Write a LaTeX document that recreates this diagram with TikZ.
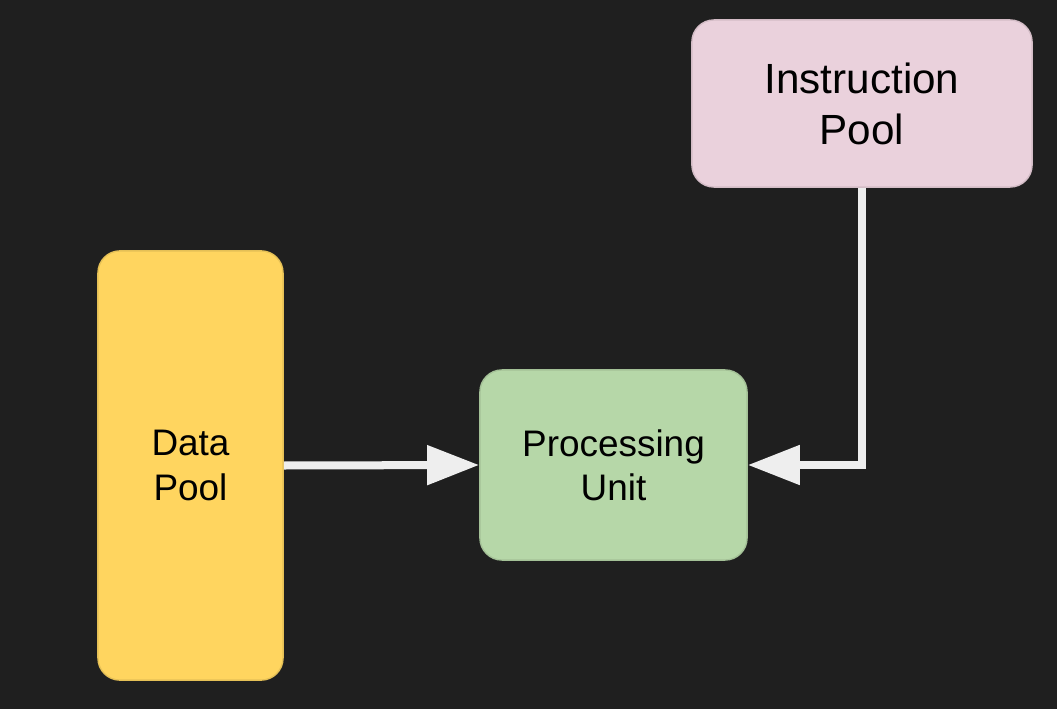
\documentclass[tikz,border=0pt]{standalone}
\usepackage{fontspec}
\setmainfont{Liberation Sans}
\usetikzlibrary{arrows.meta}
\definecolor{bgdark}{HTML}{1F1F1F}
\definecolor{datayellow}{HTML}{FFD55F}
\definecolor{procgreen}{HTML}{B6D7A8}
\definecolor{instrpink}{HTML}{EAD1DC}
\definecolor{flowgray}{HTML}{EEEEEE}
\begin{document}
\begin{tikzpicture}[x=0.01cm, y=-0.01cm,
                    pbox/.style = {shape = rectangle,
                                   rounded corners = 0.22cm,
                                   inner sep = 0pt,
                                   align = center,
                                   text = black,
                                   font = \fontsize{10.5}{12.6}\selectfont},
                    flow/.style = {draw = flowgray,
                                   line width = 0.08cm,
                                   -{Triangle[length=0.52cm, width=0.38cm]}}]
		\fill[bgdark] (0,0) rectangle (1057,709);
		\useasboundingbox (0,0) rectangle (1057,709);
		\node[pbox, fill = datayellow, draw = datayellow!90!black,
		      minimum width = 1.85cm, minimum height = 4.29cm] (data) at (190.5,465.5) {Data\\Pool};
		\node[pbox, fill = procgreen, draw = procgreen!90!black,
		      minimum width = 2.67cm, minimum height = 1.9cm] (proc) at (613.5,465) {Processing\\Unit};
		\node[pbox, fill = instrpink, draw = instrpink!90!black,
		      font = \fontsize{12}{14.5}\selectfont,
		      minimum width = 3.4cm, minimum height = 1.67cm] (instr) at (862,103.5) {Instruction\\Pool};
		\coordinate (bend) at (instr.south |- proc.east);
		\draw[flow] (data.east) -- (proc.west);
		\draw[flow] (instr.south) -- (bend) -- (proc.east);
	\end{tikzpicture}
\end{document}
